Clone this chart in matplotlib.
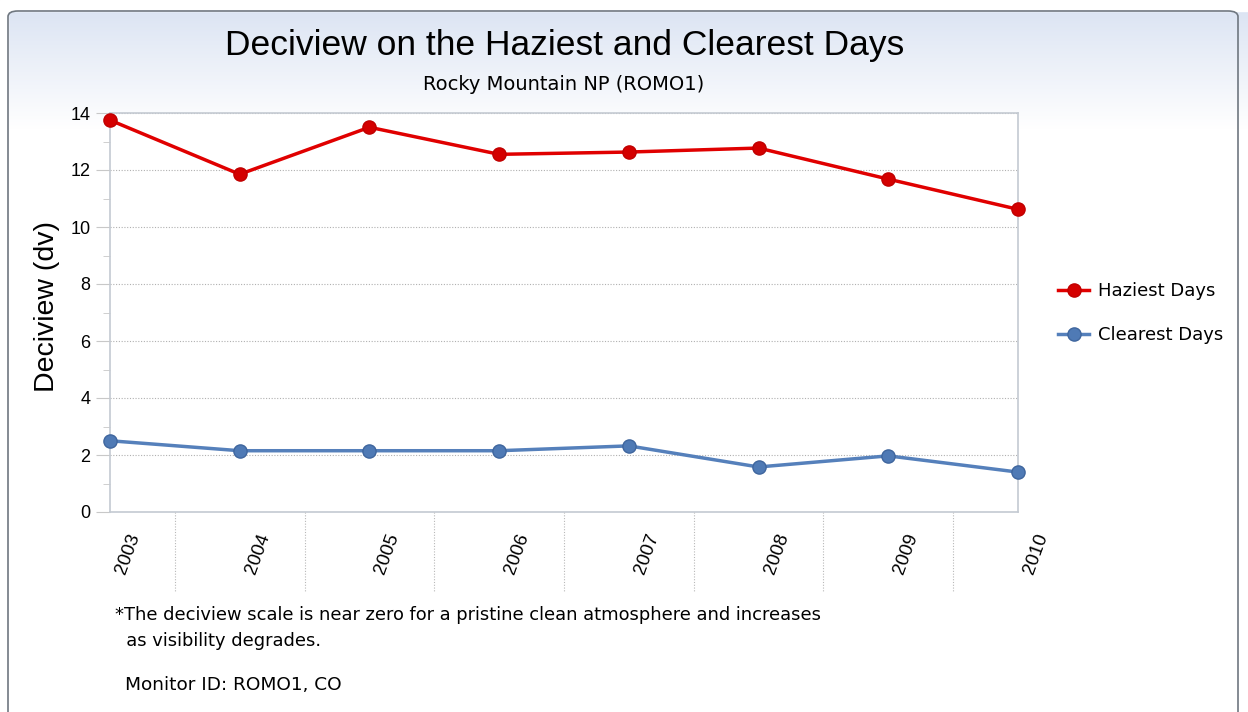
import numpy as np
import matplotlib.pyplot as plt
from matplotlib.colors import LinearSegmentedColormap
from matplotlib.patches import FancyBboxPatch
from matplotlib.transforms import blended_transform_factory, ScaledTranslation
from matplotlib.ticker import MultipleLocator

plt.rcParams['font.family'] = ['Liberation Sans', 'DejaVu Sans']

years = ['2003', '2004', '2005', '2006', '2007', '2008', '2009', '2010']
haziest = [13.75, 11.85, 13.5, 12.55, 12.63, 12.77, 11.68, 10.62]
clearest = [2.5, 2.15, 2.15, 2.15, 2.32, 1.58, 1.97, 1.4]

fig = plt.figure(figsize=(12.48, 7.12), dpi=100)

# background: light blue fading to white, with a rounded frame
bg = fig.add_axes([0, 0, 1, 1], zorder=-10)
bg.axis('off')
grad = np.ones((712, 1))
grad[:130, 0] = np.linspace(0, 1, 130)
bg.imshow(grad, aspect='auto', extent=[0, 1, 0, 1],
          cmap=LinearSegmentedColormap.from_list('bgc', ['#d9e2f2', '#ffffff']), vmin=0, vmax=1)
bg.set_xlim(0, 1)
bg.set_ylim(0, 1)
bg.axvspan(0, 8 / 1248, color='white', zorder=1)
bg.axhspan(1 - 11 / 712, 1, color='white', zorder=1)
frame = FancyBboxPatch((8 / 1248, -0.05), 1230 / 1248, 1 + 0.05 - 11 / 712,
                       boxstyle='round,pad=0,rounding_size=0.008',
                       transform=bg.transAxes, fill=False, edgecolor='#6f7780',
                       linewidth=1.2, zorder=2)
bg.add_patch(frame)

ax = fig.add_axes([110 / 1248, 1 - 512 / 712, 908 / 1248, 399 / 712])
ax.set_facecolor('white')
x = np.arange(len(years))

ax.plot(x, haziest, color='#e00000', linewidth=2.5, marker='o', markersize=9.5,
        markerfacecolor='#d40000', markeredgecolor='#c00000', label='Haziest Days',
        clip_on=False, zorder=5)
ax.plot(x, clearest, color='#5580bb', linewidth=2.5, marker='o', markersize=9.5,
        markerfacecolor='#4f7ab5', markeredgecolor='#3f669e', label='Clearest Days',
        clip_on=False, zorder=5)

ax.set_xlim(0, len(years) - 1)
ax.set_ylim(0, 14)
ax.yaxis.set_major_locator(MultipleLocator(2))
ax.yaxis.set_minor_locator(MultipleLocator(1))
ax.grid(axis='y', which='major', color='#b0b0b0', linestyle=(0, (1, 1.5)), linewidth=0.8)

for s in ax.spines.values():
    s.set_color('#c4cad2')
    s.set_linewidth(1.2)

ax.tick_params(axis='y', which='major', length=10, color='#c8c8c8', labelsize=13, pad=4)
ax.tick_params(axis='y', which='minor', length=5, color='#c8c8c8')
ax.set_xticks(x)
ax.set_xticklabels(years, rotation=70, fontsize=13.5, ha='center', va='top')
ax.tick_params(axis='x', length=0, pad=14)
shift = ScaledTranslation(18 / 100, 0, fig.dpi_scale_trans)
for lab in ax.get_xticklabels():
    lab.set_transform(lab.get_transform() + shift)

# dotted separators below the axis between categories
trans = blended_transform_factory(ax.transData, ax.transAxes)
for xi in x[:-1] + 0.5:
    ax.plot([xi, xi], [0, -80 / 399], transform=trans, color='#b8b8b8',
            linestyle=(0, (1, 1.5)), linewidth=0.8, clip_on=False)

fig.text(47 / 1248, 1 - 307 / 712, 'Deciview (dv)', fontsize=20.5, rotation=90,
         ha='center', va='center')

fig.text(565 / 1248, 1 - 45 / 712, 'Deciview on the Haziest and Clearest Days',
         fontsize=25.5, ha='center', va='center')
fig.text(564 / 1248, 1 - 85 / 712, 'Rocky Mountain NP (ROMO1)',
         fontsize=14, ha='center', va='center', family='DejaVu Sans')

fig.text(115 / 1248, 1 - 615 / 712,
         '*The deciview scale is near zero for a pristine clean atmosphere and increases',
         fontsize=12.85, ha='left', va='center', family='DejaVu Sans')
fig.text(115 / 1248, 1 - 641 / 712, '  as visibility degrades.',
         fontsize=12.85, ha='left', va='center', family='DejaVu Sans')
fig.text(125 / 1248, 1 - 685 / 712, 'Monitor ID: ROMO1, CO',
         fontsize=13.3, ha='left', va='center', family='DejaVu Sans')

leg = fig.legend(loc='center left', bbox_to_anchor=(1042 / 1248, 1 - 313 / 712), frameon=False,
                 handlelength=1.7, labelspacing=1.45, handletextpad=0.5,
                 prop={'family': 'DejaVu Sans', 'size': 13})

fig.savefig('out.png', dpi=100)
